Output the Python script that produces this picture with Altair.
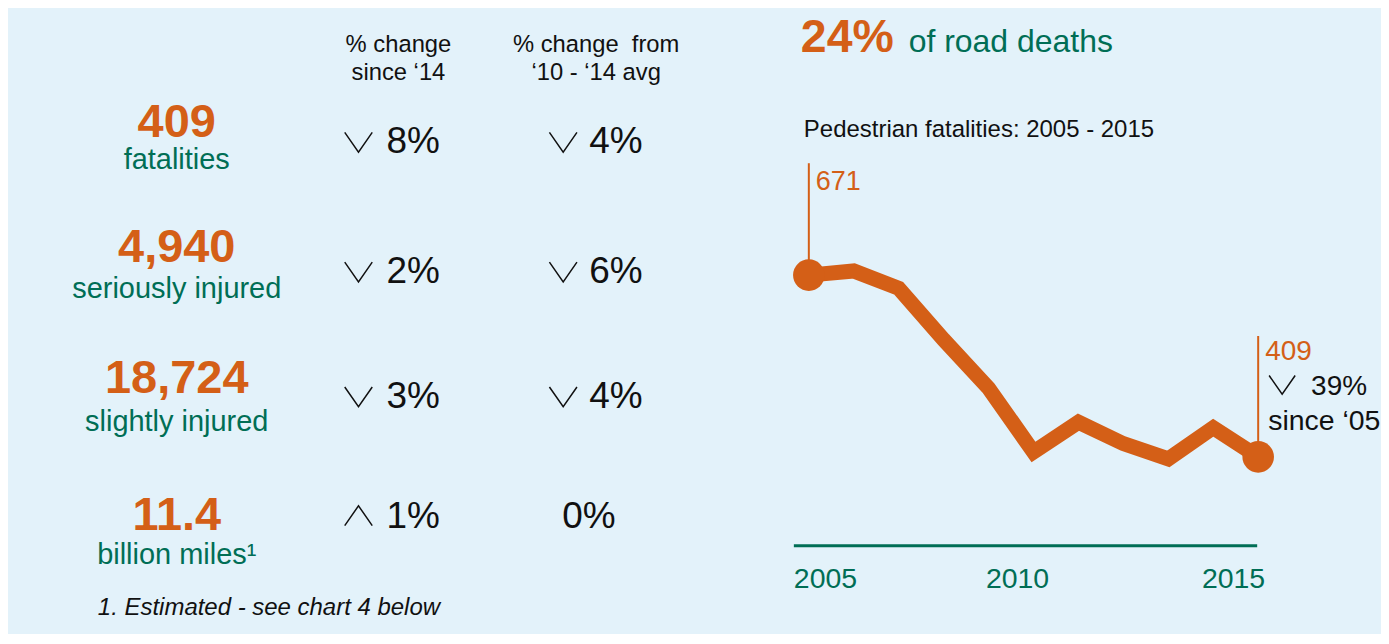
import altair as alt
import pandas as pd

# ---------------- data ----------------
metric_values = ["409", "4,940", "18,724", "11.4"]
metric_labels = ["fatalities", "seriously injured", "slightly injured", "billion miles¹"]
change_since_14 = [-8, -2, -3, 1]
change_vs_avg = [-4, -6, -4, 0]
header_since_14 = ["% change", "since ‘14"]
header_vs_avg = ["% change\u00a0 from", "‘10 - ‘14 avg"]
footnote = ["1. Estimated - see chart 4 below"]

headline_share = ["24%"]
headline_text = ["of road deaths"]
subtitle = ["Pedestrian fatalities: 2005 - 2015"]
years = [2005, 2006, 2007, 2008, 2009, 2010, 2011, 2012, 2013, 2014, 2015]
fatalities = [671, 677, 652, 578, 508, 416, 459, 428, 406, 451, 409]
tick_years = ["2005", "2010", "2015"]
change_since_05 = [-39]
since_05_label = ["since ‘05"]

# ---------------- style / layout ----------------
FONT = "Liberation Sans"
ORANGE = "#D45F17"
GREEN = "#006E55"
INK = "#111111"
BG = "#E3F2FA"

LEFT_W, RIGHT_W, H = 772, 603, 626
DOWN = "M-1,-0.72L0,0.72L1,-0.72"
UP = "M-1,0.72L0,-0.72L1,0.72"

# ---------------- left panel (table) ----------------
metrics_df = pd.DataFrame({"row": range(len(metric_values)),
                           "value": metric_values, "label": metric_labels})

cells = []
for r, pair in enumerate(zip(change_since_14, change_vs_avg)):
    for c, v in enumerate(pair):
        cells.append({"row": r, "col": c, "pct": f"{abs(v)}%",
                      "dir": "down" if v < 0 else ("up" if v > 0 else "flat")})
cells_df = pd.DataFrame(cells)

hdr = []
for c, lines in enumerate([header_since_14, header_vs_avg]):
    for i, t in enumerate(lines):
        hdr.append({"col": c, "line": i, "text": t})
hdr_df = pd.DataFrame(hdr)


def rowscale(rng):
    return alt.Scale(domain=[0, 1, 2, 3], range=rng, nice=False, zero=False)


def colscale(rng):
    return alt.Scale(domain=[0, 1], range=rng, nice=False, zero=False)


numbers = alt.Chart(metrics_df).mark_text(
    font=FONT, fontSize=47, fontWeight="bold", color=ORANGE,
    align="center", baseline="alphabetic"
).encode(
    x=alt.value(169),
    y=alt.Y("row:Q", scale=rowscale([129, 254, 385, 522]), axis=None),
    text="value:N",
)

labels = alt.Chart(metrics_df).mark_text(
    font=FONT, fontSize=29, color=GREEN, align="center", baseline="alphabetic"
).encode(
    x=alt.value(169),
    y=alt.Y("row:Q", scale=rowscale([161, 290, 423, 556]), axis=None),
    text="label:N",
)

chevrons = alt.Chart(cells_df).transform_filter(
    alt.datum.dir != "flat"
).mark_point(filled=False, color=INK, strokeWidth=1.5, opacity=1, size=760).encode(
    x=alt.X("col:Q", scale=colscale([351, 556]), axis=None),
    y=alt.Y("row:Q", scale=rowscale([134, 264, 389, 508]), axis=None),
    shape=alt.Shape("dir:N", scale=alt.Scale(domain=["down", "up"], range=[DOWN, UP]), legend=None),
)

pct_text = alt.Chart(cells_df).transform_filter(
    alt.datum.dir != "flat"
).mark_text(font=FONT, fontSize=37, color=INK, align="left", baseline="alphabetic").encode(
    x=alt.X("col:Q", scale=colscale([379, 582]), axis=None),
    y=alt.Y("row:Q", scale=rowscale([145, 275, 400, 520]), axis=None),
    text="pct:N",
)

flat_text = alt.Chart(cells_df).transform_filter(
    alt.datum.dir == "flat"
).mark_text(font=FONT, fontSize=37, color=INK, align="left", baseline="alphabetic").encode(
    x=alt.X("col:Q", scale=colscale([350, 555]), axis=None),
    y=alt.Y("row:Q", scale=rowscale([145, 275, 400, 520]), axis=None),
    text="pct:N",
)

headers = alt.Chart(hdr_df).mark_text(
    font=FONT, fontSize=23.8, color=INK, align="center", baseline="alphabetic"
).encode(
    x=alt.X("col:Q", scale=colscale([391, 589]), axis=None),
    y=alt.Y("line:Q", scale=alt.Scale(domain=[0, 1], range=[44, 72], nice=False, zero=False), axis=None),
    text="text:N",
)

foot = alt.Chart(pd.DataFrame({"t": footnote})).mark_text(
    font=FONT, fontSize=24, fontStyle="italic", color=INK, align="left", baseline="alphabetic"
).encode(x=alt.value(90), y=alt.value(607), text="t:N")

left = alt.layer(headers, numbers, labels, chevrons, pct_text, flat_text, foot).resolve_scale(
    x="independent", y="independent"
).properties(width=LEFT_W, height=H)

# ---------------- right panel (line chart) ----------------
line_df = pd.DataFrame({"year": years, "fatalities": fatalities})

X = alt.X("year:Q", scale=alt.Scale(domain=[2005, 2015], range=[30, 480], nice=False, zero=False), axis=None)
Y = alt.Y("fatalities:Q", scale=alt.Scale(domain=[400, 700], range=[455.3, 246.9], nice=False, zero=False), axis=None)

base = alt.Chart(line_df)

line = base.mark_line(color=ORANGE, strokeWidth=15).encode(x=X, y=Y)

first = base.transform_filter(alt.datum.year == years[0])
last = base.transform_filter(alt.datum.year == years[-1])

rule_first = first.mark_rule(color=ORANGE, strokeWidth=2).encode(x=X, y=Y, y2=alt.value(155))
rule_last = last.mark_rule(color=ORANGE, strokeWidth=2).encode(x=X, y=Y, y2=alt.value(328))

dots = base.transform_filter(
    alt.FieldOneOfPredicate(field="year", oneOf=[years[0], years[-1]])
).mark_circle(color=ORANGE, opacity=1, size=1000).encode(x=X, y=Y)

lab_first = first.mark_text(font=FONT, fontSize=27, color=ORANGE, align="left",
                            baseline="alphabetic", dx=7).encode(
    x=X, y=alt.value(182), text="fatalities:Q")
lab_last = last.mark_text(font=FONT, fontSize=28, color=ORANGE, align="left",
                          baseline="alphabetic", dx=7).encode(
    x=X, y=alt.value(352), text="fatalities:Q")

chg_df = pd.DataFrame({"chg": change_since_05, "pct": [f"{abs(v)}%" for v in change_since_05],
                       "since": since_05_label})
chg_chev = alt.Chart(chg_df).mark_point(filled=False, color=INK, strokeWidth=1.5, opacity=1,
                                        size=680).encode(
    x=alt.value(504), y=alt.value(377), shape=alt.value(DOWN))
chg_pct = alt.Chart(chg_df).mark_text(font=FONT, fontSize=28, color=INK, align="left",
                                      baseline="alphabetic").encode(
    x=alt.value(533), y=alt.value(387), text="pct:N")
chg_since = alt.Chart(chg_df).mark_text(font=FONT, fontSize=28.5, color=INK, align="left",
                                        baseline="alphabetic").encode(
    x=alt.value(490), y=alt.value(422), text="since:N")

axis_df = pd.DataFrame({"year": tick_years})
axis_line = alt.Chart(axis_df.head(1)).mark_rule(color=GREEN, strokeWidth=3).encode(
    x=alt.value(15), x2=alt.value(479), y=alt.value(538))

TX = alt.X("yr:Q", scale=alt.Scale(domain=[2005, 2015], range=[30, 480], nice=False, zero=False), axis=None)
tick_base = alt.Chart(axis_df).transform_calculate(yr="toNumber(datum.year)")
tick_a = tick_base.transform_filter(alt.datum.year == tick_years[0]).mark_text(
    font=FONT, fontSize=28.5, color=GREEN, align="left", baseline="alphabetic", dx=-15
).encode(x=TX, y=alt.value(580), text="year:N")
tick_b = tick_base.transform_filter(alt.datum.year == tick_years[1]).mark_text(
    font=FONT, fontSize=28.5, color=GREEN, align="center", baseline="alphabetic", dx=-16
).encode(x=TX, y=alt.value(580), text="year:N")
tick_c = tick_base.transform_filter(alt.datum.year == tick_years[2]).mark_text(
    font=FONT, fontSize=28.5, color=GREEN, align="right", baseline="alphabetic", dx=7
).encode(x=TX, y=alt.value(580), text="year:N")

head_share = alt.Chart(pd.DataFrame({"t": headline_share})).mark_text(
    font=FONT, fontSize=46.5, fontWeight="bold", color=ORANGE, align="left", baseline="alphabetic"
).encode(x=alt.value(22), y=alt.value(44), text="t:N")
head_text = alt.Chart(pd.DataFrame({"t": headline_text})).mark_text(
    font=FONT, fontSize=32, color=GREEN, align="left", baseline="alphabetic"
).encode(x=alt.value(130), y=alt.value(44), text="t:N")
sub = alt.Chart(pd.DataFrame({"t": subtitle})).mark_text(
    font=FONT, fontSize=24, color=INK, align="left", baseline="alphabetic"
).encode(x=alt.value(25), y=alt.value(129), text="t:N")

right = alt.layer(
    head_share, head_text, sub, axis_line, tick_a, tick_b, tick_c,
    rule_first, rule_last, line, dots, lab_first, lab_last, chg_chev, chg_pct, chg_since
).properties(width=RIGHT_W, height=H)

chart = alt.hconcat(left, right, spacing=0).properties(padding=0).configure(
    background=BG, font=FONT
).configure_view(stroke=None)

chart.save("out.html", embed_options={"renderer": "svg", "actions": False})
